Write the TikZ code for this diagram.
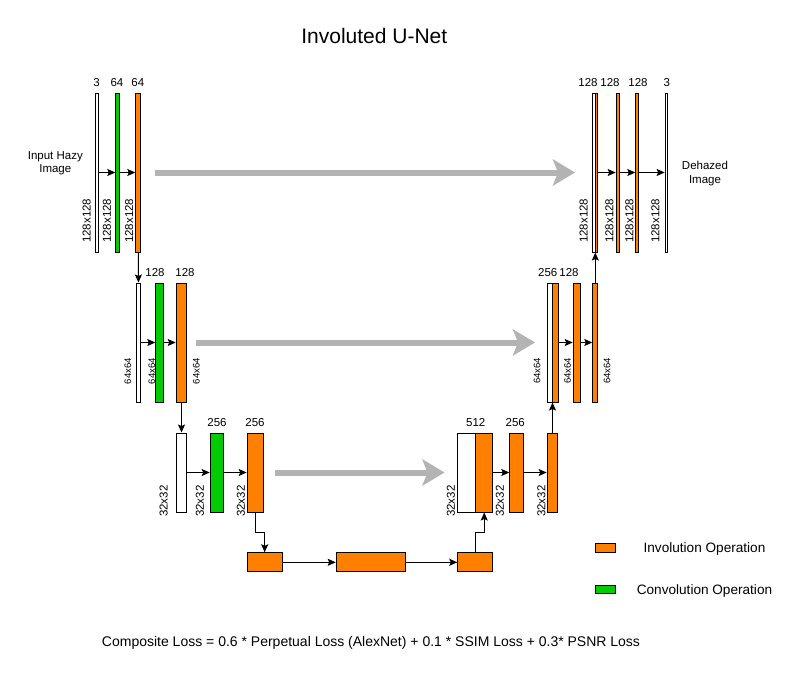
\documentclass[tikz,border=0pt]{standalone}
\usepackage{fontspec}
\setmainfont{Liberation Sans}
\usetikzlibrary{arrows.meta}
\definecolor{involorange}{HTML}{FF8000}
\definecolor{convgreen}{HTML}{00CC00}
\definecolor{skipgray}{HTML}{B3B3B3}

\begin{document}
\begin{tikzpicture}[x=1pt,y=-1pt,line width=1pt,>={Stealth[length=8pt,width=7pt,inset=1.5pt]}]
	\def \rowone{172.5}
	\def \rowtwo{342.5}
	\def \rowthree{472.5}
	\def \basement{562.3}
	\tikzstyle{w-bar}=[rectangle,draw=black,fill=white,inner sep=0pt]
	\tikzstyle{g-bar}=[rectangle,draw=black,fill=convgreen,inner sep=0pt]
	\tikzstyle{o-bar}=[rectangle,draw=black,fill=involorange,inner sep=0pt]
	\tikzstyle{lvl-one}=[minimum height=159pt]
	\tikzstyle{lvl-two}=[minimum height=119pt]
	\tikzstyle{lvl-three}=[minimum height=79pt]
	\tikzstyle{chan}=[font=\fontsize{11.5}{12}\selectfont,inner sep=0pt]
	\tikzstyle{res}=[chan,rotate=90]
	\tikzstyle{res-small}=[font=\fontsize{9.5}{10}\selectfont,inner sep=0pt,rotate=90]
	\tikzstyle{annot}=[font=\fontsize{11.5}{13.3}\selectfont,inner sep=0pt,align=center]
	\tikzstyle{legend}=[font=\fontsize{13.6}{15}\selectfont,inner sep=0pt]
	\tikzstyle{skip-arrow}=[draw=skipgray,line width=6pt,-{Stealth[length=22pt,width=26pt,inset=5pt]}]

	\fill[white] (0,0) rectangle (801,673);
	\useasboundingbox (0,0) rectangle (801,673);

	\node[font=\fontsize{21}{24}\selectfont,inner sep=0pt] (title) at (374.3,35.5) {Involuted U-Net};

	% encoder, level one
	\node[w-bar,lvl-one,minimum width=2.6pt] 	(e1w)	at (96.8,\rowone)	{};
	\node[g-bar,lvl-one,minimum width=3.4pt] 	(e1g)	at (117.5,\rowone)	{};
	\node[o-bar,lvl-one,minimum width=5pt] 	(e1o)	at (138.3,\rowone)	{};
	% encoder, level two
	\node[w-bar,lvl-two,minimum width=4.6pt] 	(e2w)	at (138.5,\rowtwo)	{};
	\node[g-bar,lvl-two,minimum width=8pt] 	(e2g)	at (159.8,\rowtwo)	{};
	\node[o-bar,lvl-two,minimum width=10.6pt] 	(e2o)	at (181.5,\rowtwo)	{};
	% encoder, level three
	\node[w-bar,lvl-three,minimum width=10.6pt] 	(e3w)	at (181.5,\rowthree)	{};
	\node[g-bar,lvl-three,minimum width=13.6pt] 	(e3g)	at (217,\rowthree)	{};
	\node[o-bar,lvl-three,minimum width=16.6pt] 	(e3o)	at (255.5,\rowthree)	{};

	% bottleneck
	\node[o-bar,minimum width=35pt,minimum height=19pt] 	(b1)	at (264.7,\basement)	{};
	\node[o-bar,minimum width=69pt,minimum height=19pt] 	(b2)	at (370.7,\basement)	{};
	\node[o-bar,minimum width=35pt,minimum height=19pt] 	(b3)	at (475.3,\basement)	{};

	% decoder, level three
	\node[w-bar,lvl-three,minimum width=17.9pt] 	(d3w)	at (466.75,\rowthree)	{};
	\node[o-bar,lvl-three,minimum width=17.1pt] 	(d3c)	at (484.25,\rowthree)	{};
	\node[o-bar,lvl-three,minimum width=14pt] 	(d3o2)	at (516.8,\rowthree)	{};
	\node[o-bar,lvl-three,minimum width=10.6pt] 	(d3o3)	at (552.5,\rowthree)	{};
	% decoder, level two
	\node[w-bar,lvl-two,minimum width=5.1pt] 	(d2w)	at (549.75,\rowtwo)	{};
	\node[o-bar,lvl-two,minimum width=5.9pt] 	(d2c)	at (555.25,\rowtwo)	{};
	\node[o-bar,lvl-two,minimum width=7.6pt] 	(d2o2)	at (577,\rowtwo)	{};
	\node[o-bar,lvl-two,minimum width=5pt] 	(d2o3)	at (595.3,\rowtwo)	{};
	% decoder, level one
	\node[w-bar,lvl-one,minimum width=2.2pt] 	(d1w)	at (593.9,\rowone)	{};
	\node[o-bar,lvl-one,minimum width=2.8pt] 	(d1c)	at (596.4,\rowone)	{};
	\node[o-bar,lvl-one,minimum width=3pt] 	(d1o2)	at (617.7,\rowone)	{};
	\node[o-bar,lvl-one,minimum width=2.4pt] 	(d1o3)	at (637,\rowone)	{};
	\node[w-bar,lvl-one,minimum width=2.3pt] 	(d1w2)	at (666.3,\rowone)	{};

	% channel counts
	\node[chan] 	(c-e1w)	at (96.5,82.8)	{3};
	\node[chan] 	(c-e1g)	at (117,82.8)	{64};
	\node[chan] 	(c-e1o)	at (137.8,82.8)	{64};
	\node[chan] 	(c-e2g)	at (155,272.8)	{128};
	\node[chan] 	(c-e2o)	at (185,272.8)	{128};
	\node[chan] 	(c-e3g)	at (217,422.8)	{256};
	\node[chan] 	(c-e3o)	at (255,422.8)	{256};
	\node[chan] 	(c-d3c)	at (475.7,422.8)	{512};
	\node[chan] 	(c-d3o2)	at (515.3,422.8)	{256};
	\node[chan] 	(c-d2c)	at (547.7,272.8)	{256};
	\node[chan] 	(c-d2o2)	at (569,272.8)	{128};
	\node[chan] 	(c-d1c)	at (588,82.8)	{128};
	\node[chan] 	(c-d1o2)	at (610,82.8)	{128};
	\node[chan] 	(c-d1o3)	at (638,82.8)	{128};
	\node[chan] 	(c-d1w2)	at (666.7,82.8)	{3};

	% resolutions
	\node[res] 	(s-e1w)	at (86.7,220.8)	{128x128};
	\node[res] 	(s-e1g)	at (106.8,220.8)	{128x128};
	\node[res] 	(s-e1o)	at (129.2,220.8)	{128x128};
	\node[res-small] 	(s-e2w)	at (127.8,371.2)	{64x64};
	\node[res-small] 	(s-e2g)	at (151.8,371.2)	{64x64};
	\node[res-small] 	(s-e2o)	at (196.3,371.2)	{64x64};
	\node[res] 	(s-e3w)	at (163.7,501.2)	{32x32};
	\node[res] 	(s-e3g)	at (199.8,501.2)	{32x32};
	\node[res] 	(s-e3o)	at (240.8,501.2)	{32x32};
	\node[res] 	(s-d3c)	at (450.8,501.2)	{32x32};
	\node[res] 	(s-d3o2)	at (500,501.2)	{32x32};
	\node[res] 	(s-d3o3)	at (541.5,501.2)	{32x32};
	\node[res-small] 	(s-d2c)	at (537,370.8)	{64x64};
	\node[res-small] 	(s-d2o2)	at (567.7,370.8)	{64x64};
	\node[res-small] 	(s-d2o3)	at (607,370.8)	{64x64};
	\node[res] 	(s-d1c)	at (583.7,220.8)	{128x128};
	\node[res] 	(s-d1o2)	at (609.5,220.8)	{128x128};
	\node[res] 	(s-d1o3)	at (629.5,220.8)	{128x128};
	\node[res] 	(s-d1w2)	at (655.5,220.8)	{128x128};

	% input and output
	\node[annot] 	(input)	at (55.3,163.5)	{Input Hazy\\Image};
	\node[annot] 	(output)	at (705,173.5)	{Dehazed\\Image};

	% skip connections
	\draw[skip-arrow,shorten <=13.7pt,shorten >=17.3pt] (e1o) -- (d1w);
	\draw[skip-arrow,shorten <=8.4pt,shorten >=11.7pt] (e2o) -- (d2w);
	\draw[skip-arrow,shorten <=11pt,shorten >=12.8pt] (e3o) -- (d3w);

	\path[->]
		(e1w)	edge	(e1g)
		(e1g)	edge	(e1o)
		(e1o)	edge	(e2w)
		(e2w)	edge	(e2g)
		(e2g)	edge	(e2o)
		(e2o)	edge	(e3w)
		(e3w)	edge	(e3g)
		(e3g)	edge	(e3o)
		(b1)	edge	(b2)
		(b2)	edge	(b3)
		(d3c)	edge	(d3o2)
		(d3o2)	edge	(d3o3)
		(d2c)	edge	(d2o2)
		(d2o2)	edge	(d2o3)
		(d1c)	edge	(d1o2)
		(d1o2)	edge	(d1o3)
		(d1o3)	edge	(d1w2);
	\draw[->] (e3o.south) -- ++(0,20) -| (b1.north);
	\draw[->] (b3.north) -- ++(0,-20) -| (d3c.south);
	\draw[->] (d3o3.north) -- (d3o3.north |- d2w.south);
	\draw[->] (d2o3.north) -- (d2o3.north |- d1w.south);

	% legend
	\node[o-bar,minimum width=19.7pt,minimum height=8.4pt] 	(key-inv)	at (605.3,548)	{};
	\node[g-bar,minimum width=19.7pt,minimum height=8pt] 	(key-conv)	at (605.3,589.5)	{};
	\node[legend] 	(key-inv-txt)	at (704.5,548.5)	{Involution Operation};
	\node[legend] 	(key-conv-txt)	at (704.5,590.5)	{Convolution Operation};

	\node[font=\fontsize{14}{16}\selectfont,inner sep=0pt] (loss) at (371,642.5) {Composite Loss = 0.6 * Perpetual Loss (AlexNet) + 0.1 * SSIM Loss + 0.3* PSNR Loss};
\end{tikzpicture}
\end{document}
